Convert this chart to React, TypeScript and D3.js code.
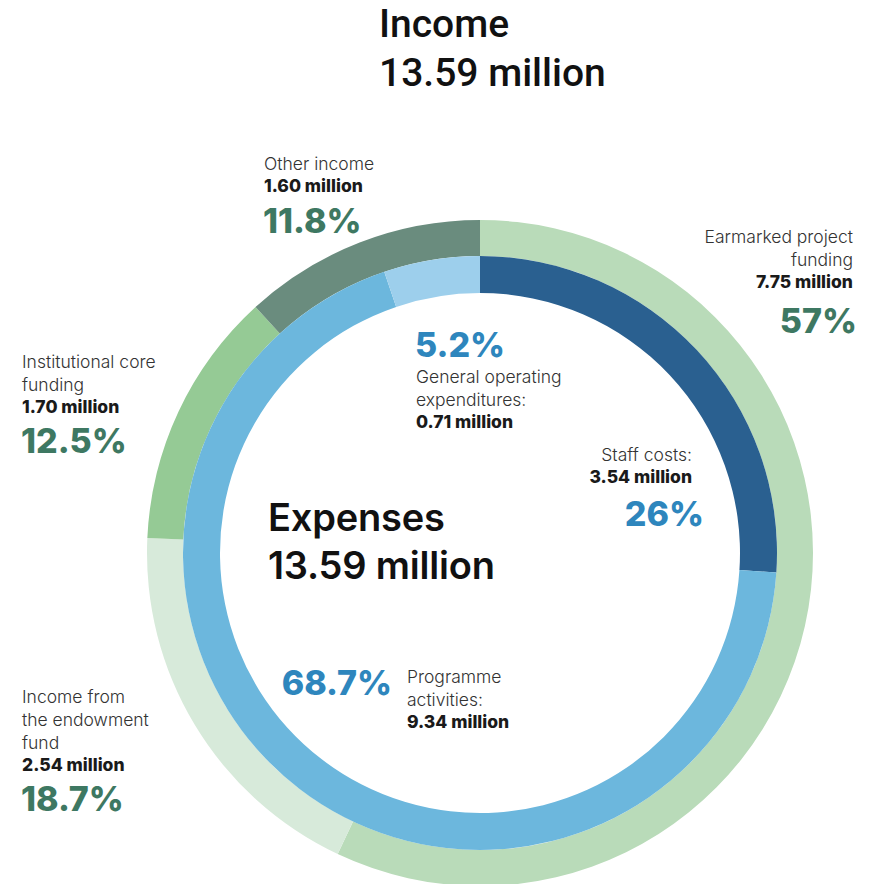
import { useMemo } from "react";
import * as d3 from "d3";

const W = 879;
const H = 884;
const CX = 480;
const CY = 553;

const incomeNames = ["Earmarked project funding", "Income from the endowment fund", "Institutional core funding", "Other income"];
const incomeValues = [7.75, 2.54, 1.70, 1.60];
const incomeColors = ["#b9dbb9", "#d7eada", "#95ca95", "#6a8c7e"];

const expenseNames = ["Staff costs", "Programme activities", "General operating expenditures"];
const expenseValues = [3.54, 9.34, 0.71];
const expenseColors = ["#2a6090", "#6cb7dd", "#9dcfec"];

const LABEL = "Inter, sans-serif";
const TITLE = "Roboto, sans-serif";
const GREEN = "#3e7862";
const BLUE = "#2e86bd";
const GREY = "#333";

type Lab = {
  x: number;
  y: number;
  anchor: "start" | "end";
  lines: string[];
  amount: string;
  pct: string;
  pctX?: number;
  pctY: number;
  color: string;
};

const labels: Lab[] = [
  { x: 264, y: 170, anchor: "start", lines: ["Other income"], amount: "1.60 million", pct: "11.8%", pctY: 233, color: GREEN },
  { x: 853, y: 243, anchor: "end", lines: ["Earmarked project", "funding"], amount: "7.75 million", pct: "57%", pctX: 857, pctY: 333, color: GREEN },
  { x: 22, y: 368, anchor: "start", lines: ["Institutional core", "funding"], amount: "1.70 million", pct: "12.5%", pctY: 453, color: GREEN },
  { x: 22, y: 703, anchor: "start", lines: ["Income from", "the endowment", "fund"], amount: "2.54 million", pct: "18.7%", pctY: 811, color: GREEN },
  { x: 416, y: 383, anchor: "start", lines: ["General operating", "expenditures:"], amount: "0.71 million", pct: "5.2%", pctY: 357, color: BLUE },
  { x: 692, y: 461, anchor: "end", lines: ["Staff costs:"], amount: "3.54 million", pct: "26%", pctX: 704, pctY: 526, color: BLUE },
  { x: 407, y: 683, anchor: "start", lines: ["Programme", "activities:"], amount: "9.34 million", pct: "68.7%", pctX: 392, pctY: 695, color: BLUE },
];

export default function App() {
  const pie = d3.pie<number>().sort(null).value((d) => d);
  const incomeArcs = useMemo(() => pie(incomeValues), []);
  const expenseArcs = useMemo(() => pie(expenseValues), []);
  const outer = d3.arc<d3.PieArcDatum<number>>().innerRadius(297).outerRadius(333);
  const inner = d3.arc<d3.PieArcDatum<number>>().innerRadius(260).outerRadius(297);

  return (
    <svg width={W} height={H} style={{ position: "absolute", left: 0, top: 0 }}>
      <rect width={W} height={H} fill="#fff" />
      <g transform={`translate(${CX},${CY})`}>
        {incomeArcs.map((a, i) => (
          <path key={incomeNames[i]} d={outer(a) || ""} fill={incomeColors[i]} />
        ))}
        {expenseArcs.map((a, i) => (
          <path key={expenseNames[i]} d={inner(a) || ""} fill={expenseColors[i]} />
        ))}
      </g>

      <g fontFamily={TITLE} fontWeight={500} fontSize={39} fill="#111">
        <text x={379} y={37}>Income</text>
        <text x={379} y={86}>13.59 million</text>
      </g>
      <g fontFamily={LABEL} fontWeight={600} fontSize={38} fill="#111" letterSpacing={-0.2}>
        <text x={268} y={531}>Expenses</text>
        <text x={268} y={579}>13.59 million</text>
      </g>

      {labels.map((l) => (
        <g key={l.amount} fontFamily={LABEL} textAnchor={l.anchor}>
          {l.lines.map((s, j) => (
            <text key={s} x={l.x} y={l.y + j * 23} fontSize={17.5} fontWeight={300} fill={GREY}>
              {s}
            </text>
          ))}
          <text x={l.x} y={l.y + l.lines.length * 23 - 1} fontSize={17.5} fontWeight={800} fill="#1a1a1a">
            {l.amount}
          </text>
          <text
            x={l.pctX ?? l.x - 1}
            y={l.pctY}
            fontSize={34}
            fontWeight={800}
            fill={l.color}
            textAnchor={l.pctX && l.anchor === "start" ? "end" : l.anchor}
          >
            {l.pct}
          </text>
        </g>
      ))}
    </svg>
  );
}
